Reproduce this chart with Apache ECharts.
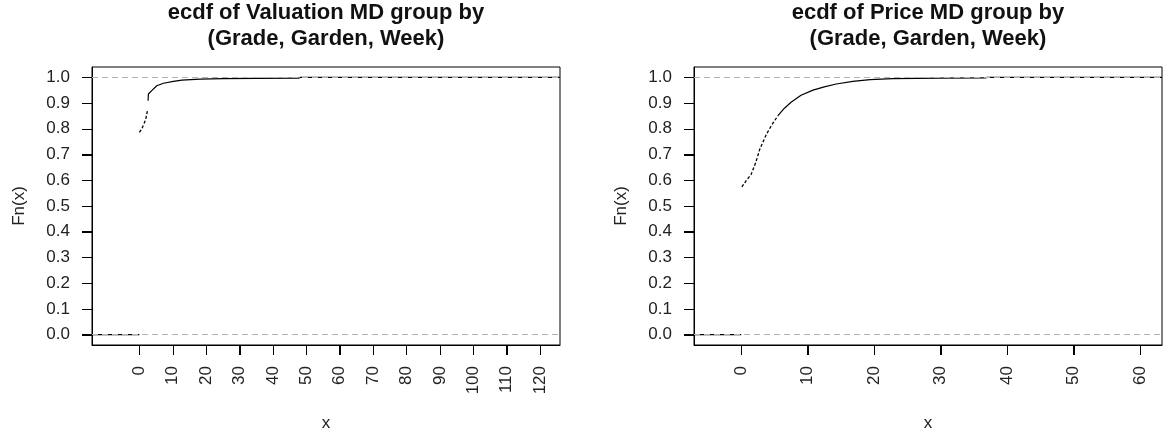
<!DOCTYPE html>
<html>
<head>
<meta charset="utf-8">
<script src="https://cdn.jsdelivr.net/npm/echarts@6/dist/echarts.min.js"></script>
<style>html,body{margin:0;padding:0;background:#fff;}#c{width:1165px;height:437px;}</style>
</head>
<body>
<div id="c"></div>
<script>
// ---- data ----
const valTitle = 'ecdf of Valuation MD group by\n(Grade, Garden, Week)';
const priceTitle = 'ecdf of Price MD group by\n(Grade, Garden, Week)';
// Valuation ecdf (steep part, then flat part)
const valSteepX = [0, 0.7, 1.4, 1.9, 2.2, 2.4];
const valSteepY = [0.786, 0.799, 0.820, 0.837, 0.857, 0.870];
const valFlatX = [2.6, 2.7, 3.7, 5.2, 7.2, 10.2, 12.7, 18.2, 25, 35, 48];
const valFlatY = [0.909, 0.935, 0.948, 0.967, 0.977, 0.984, 0.989, 0.993, 0.995, 0.996, 0.997];
const valMax = 112;
// Price ecdf
const priceSteepX = [0.1, 0.8, 1.5, 2.2, 2.8, 3.8, 4.6, 5.5];
const priceSteepY = [0.574, 0.600, 0.623, 0.670, 0.721, 0.779, 0.815, 0.850];
const priceFlatX = [5.5, 6.5, 7.5, 9, 10.8, 12.5, 14.3, 16.8, 19.4, 22.8, 30, 36.9];
const priceFlatY = [0.850, 0.880, 0.903, 0.930, 0.950, 0.963, 0.974, 0.984, 0.991, 0.995, 0.997, 0.998];
const priceMax = 56;
const yTicks = [0, 0.1, 0.2, 0.3, 0.4, 0.5, 0.6, 0.7, 0.8, 0.9, 1.0];
const valXTicks = [0, 10, 20, 30, 40, 50, 60, 70, 80, 90, 100, 110, 120];
const priceXTicks = [0, 10, 20, 30, 40, 50, 60];
const valRange = [-14.2, 126];
const priceRange = [-7.1, 63.3];
const yRange = [-0.04, 1.04];

const zip = (xs, ys) => xs.map((x, i) => [x, ys[i]]);
const FONT = 'Liberation Sans, Arial, sans-serif';
const TXT = '#222';
const TICK_LEN = 10;

function xAxis(gi, range, ticks) {
  return {
    type: 'value', gridIndex: gi, min: range[0], max: range[1],
    axisLine: {show: true, onZero: false, lineStyle: {color: '#000', width: 1}}, splitLine: {show: false},
    axisTick: {show: true, length: TICK_LEN, customValues: ticks, lineStyle: {color: '#000', width: 1}},
    axisLabel: {customValues: ticks, rotate: 90, margin: 21, fontSize: 17, fontFamily: FONT, color: TXT},
    name: 'x', nameLocation: 'middle', nameGap: 70,
    nameTextStyle: {fontSize: 17, fontFamily: FONT, color: TXT}
  };
}
function yAxis(gi) {
  return {
    type: 'value', gridIndex: gi, min: yRange[0], max: yRange[1],
    axisLine: {show: true, onZero: false, lineStyle: {color: '#000', width: 1}}, splitLine: {show: false},
    axisTick: {show: true, length: TICK_LEN, customValues: yTicks, lineStyle: {color: '#000', width: 1}},
    axisLabel: {customValues: yTicks, margin: 22, fontSize: 17, fontFamily: FONT, color: TXT, formatter: v => v.toFixed(1)},
    name: 'Fn(x)', nameLocation: 'middle', nameGap: 64,
    nameTextStyle: {fontSize: 17, fontFamily: FONT, color: TXT}
  };
}
// tick marks drawn through the axis scales (backup so they always show)
function tickSeries(gi, range, xTicks) {
  const yData = yTicks.map(v => [range[0], v]);
  const xData = xTicks.map(v => [v, yRange[0]]);
  const base = {type: 'custom', xAxisIndex: gi, yAxisIndex: gi, silent: true, animation: false, clip: false, z: 6};
  return [
    Object.assign({}, base, {
      data: yData,
      renderItem: (params, api) => {
        const p = api.coord([api.value(0), api.value(1)]);
        const y = Math.round(p[1]) + 0.5;
        return {type: 'line', shape: {x1: p[0] - TICK_LEN, y1: y, x2: p[0], y2: y}, style: {stroke: '#000', lineWidth: 1}};
      }
    }),
    Object.assign({}, base, {
      data: xData,
      renderItem: (params, api) => {
        const p = api.coord([api.value(0), api.value(1)]);
        const x = Math.round(p[0]) + 0.5;
        return {type: 'line', shape: {x1: x, y1: p[1], x2: x, y2: p[1] + TICK_LEN}, style: {stroke: '#000', lineWidth: 1}};
      }
    })
  ];
}
function curveSeries(gi, steepX, steepY, flatX, flatY, maxX, range) {
  const common = {type: 'line', xAxisIndex: gi, yAxisIndex: gi, showSymbol: false, symbol: 'none', animation: false, z: 2};
  return [
    Object.assign({}, common, {data: [[range[0], 0], [0, 0]], lineStyle: {color: '#000', width: 1.2}}),
    Object.assign({}, common, {data: zip(steepX, steepY), lineStyle: {color: '#000', width: 1.3, type: [3, 2]}}),
    Object.assign({}, common, {data: zip(flatX, flatY), lineStyle: {color: '#000', width: 1.2}}),
    Object.assign({}, common, {data: [[flatX[flatX.length - 1], 1], [maxX, 1], [range[1], 1]], lineStyle: {color: '#000', width: 1.2}}),
    Object.assign({}, common, {
      data: [], z: 5,
      markLine: {
        silent: true, symbol: 'none', animation: false, z: 5,
        label: {show: false},
        lineStyle: {color: '#b3b3b3', type: [6, 4], width: 1.2},
        data: [{yAxis: 0}, {yAxis: 1}]
      }
    })
  ];
}

const chart = echarts.init(document.getElementById('c'), null, {renderer: 'canvas'});
chart.setOption({
  backgroundColor: '#fff',
  animation: false,
  title: [
    {text: valTitle, left: 326, top: 0, padding: 0, textAlign: 'center',
     textStyle: {fontSize: 22, fontWeight: 'bold', fontFamily: FONT, color: '#111', lineHeight: 26}},
    {text: priceTitle, left: 928, top: 0, padding: 0, textAlign: 'center',
     textStyle: {fontSize: 22, fontWeight: 'bold', fontFamily: FONT, color: '#111', lineHeight: 26}}
  ],
  grid: [
    {left: 92, top: 67, width: 468, height: 280, show: true, borderColor: '#000', borderWidth: 1},
    {left: 694, top: 67, width: 468, height: 280, show: true, borderColor: '#000', borderWidth: 1}
  ],
  xAxis: [xAxis(0, valRange, valXTicks), xAxis(1, priceRange, priceXTicks)],
  yAxis: [yAxis(0), yAxis(1)],
  series: [].concat(
    curveSeries(0, valSteepX, valSteepY, valFlatX, valFlatY, valMax, valRange),
    curveSeries(1, priceSteepX, priceSteepY, priceFlatX, priceFlatY, priceMax, priceRange),
    tickSeries(0, valRange, valXTicks),
    tickSeries(1, priceRange, priceXTicks)
  )
});
</script>
</body>
</html>
